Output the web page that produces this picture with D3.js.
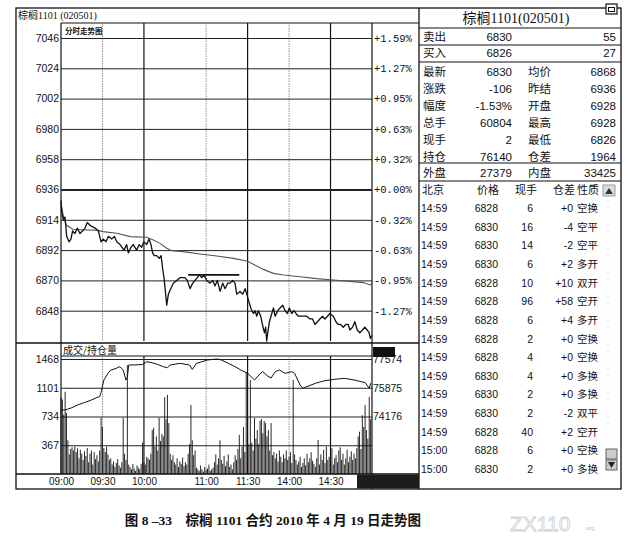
<!DOCTYPE html>
<html>
<head>
<meta charset="utf-8">
<script src="https://cdn.jsdelivr.net/npm/d3@7"></script>
<style>
  body { margin: 0; background: #fff; }
  svg { display: block; }
</style>
</head>
<body>
<div id="chart"></div>
<script>
const width = 636;
const height = 536;

// trading sessions of the day (used to turn clock times into trade minutes)
const sessions = [['09:00', '10:15'], ['10:30', '11:30'], ['13:30', '15:00']];
const timeTicks = ['09:00', '09:30', '10:00', '11:00', '11:30', '14:00', '14:30'];
const solidTimes = ['10:00', '11:30', '14:30'];

const prevSettle = 6936;
const priceDomain = [6826, 7046];
const priceTicks = [7046, 7024, 7002, 6980, 6958, 6936, 6914, 6892, 6870, 6848];

const volDomain = [0, 1468];
const volTicks = [1468, 1101, 734, 367];
const oiDomain = [70778, 77574];
const oiTicks = [77574, 75875, 74176];

// [trade minute, price]
const priceTrace = [
  [0, 6928], [0.5, 6920], [1.7, 6914], [2.9, 6916], [4.1, 6902], [5.8, 6898], [7.2, 6900],
  [8.4, 6906], [10.1, 6904], [11.8, 6908], [13.7, 6904], [15.7, 6906], [17.4, 6908],
  [19, 6912], [21, 6910], [24.6, 6908], [27, 6906], [29, 6898], [30.6, 6900], [32.6, 6898],
  [34.3, 6902], [36.7, 6900], [38.6, 6902], [40.3, 6898], [42.7, 6896], [45.6, 6892],
  [47.5, 6896], [48.7, 6890], [50.6, 6894], [52.3, 6896], [54.7, 6892], [56.6, 6896],
  [58.3, 6894], [60, 6898], [62, 6896], [63.7, 6900], [65.1, 6896], [66.3, 6890],
  [67.5, 6888], [69.2, 6888], [71.1, 6886], [72.4, 6888], [73.6, 6878], [74.5, 6872],
  [75.7, 6860], [76.5, 6852], [77.7, 6860], [79.4, 6864], [81.3, 6868], [83.7, 6870],
  [86.1, 6872], [88, 6872], [89.7, 6872], [91.4, 6870], [93.3, 6864], [95.3, 6868],
  [97, 6870], [98.6, 6872], [100.1, 6874], [101.8, 6872], [103.5, 6874], [105.4, 6870],
  [107.8, 6868], [109.8, 6870], [111.4, 6866], [113.1, 6870], [115.1, 6862], [117, 6868],
  [118.7, 6864], [120.6, 6868], [122.3, 6868], [124.2, 6870], [125.9, 6868], [127.1, 6860],
  [129.5, 6862], [131.5, 6860], [133.2, 6864], [134.4, 6860], [135.5, 6856], [137.3, 6850],
  [138.2, 6848], [139.2, 6846], [140.4, 6848], [141.6, 6844], [142.8, 6848], [144.5, 6844],
  [145.7, 6838], [147.2, 6832], [148.1, 6836], [148.8, 6826], [149.6, 6832], [150.8, 6840],
  [152.5, 6846], [153.7, 6850], [154.9, 6844], [156.8, 6848], [158.5, 6850], [160.4, 6852],
  [162.1, 6848], [163.8, 6846], [165.2, 6850], [166.9, 6846], [168.6, 6848], [170, 6846],
  [171.7, 6844], [173.6, 6844], [175.3, 6844], [177.7, 6844], [180.1, 6842], [182, 6842],
  [183.7, 6838], [185.6, 6840], [187.3, 6842], [189.2, 6844], [190.9, 6842], [192.8, 6844],
  [194.5, 6846], [197, 6844], [198.9, 6840], [200.6, 6838], [202.3, 6838], [204.2, 6836],
  [206.1, 6838], [207.8, 6838], [209, 6834], [210.9, 6836], [212.6, 6840], [214.3, 6834],
  [216.2, 6832], [218.1, 6834], [219.8, 6836], [221.5, 6834], [222.9, 6832], [223.8, 6828],
  [225, 6830]
];

// [trade minute, average price]
const avgTrace = [
  [0, 6926], [2, 6915], [4, 6910], [8.9, 6907], [18.6, 6906.6], [25.6, 6906.5], [30.4, 6905.4],
  [40.3, 6904.2], [50, 6901.8], [62, 6901.3], [66.8, 6899.3], [71.6, 6896.9], [76.5, 6893.3],
  [80, 6891.6], [88.5, 6890.9], [100.6, 6889.2], [112.7, 6887.7], [124.7, 6886], [134.4, 6884.1],
  [139.2, 6881.7], [146.4, 6878], [153.7, 6875.1], [161, 6873.9], [173, 6872.7], [185, 6871.3],
  [197, 6870.3], [209, 6869.3], [218.8, 6868.4], [223.6, 6866.7], [225, 6868]
];

// [trade minute, open interest]
const oiTrace = [
  [0, 74560], [3, 74560], [8, 74700], [12, 74855], [17, 75000], [22, 75150], [26, 75300],
  [28, 75350], [29, 75600], [31, 76330], [34, 76728], [36, 76920], [40, 77020], [42, 77118],
  [44, 77020], [45, 76920], [47, 76330], [48, 76500], [49, 77218], [55, 77230], [59, 77250],
  [62, 77415], [66, 77350], [70, 77250], [74, 77120], [77, 77060], [79, 77220], [86, 77318],
  [93, 77220], [95, 76960], [98, 77318], [106, 77515], [113, 77574], [116, 77515], [121, 77318],
  [126, 77120], [130, 76924], [135, 76728], [140, 76335], [144, 76700], [146, 76826],
  [149, 76600], [152, 76450], [155, 76826], [158, 76924], [162, 76728], [167, 76826],
  [169, 76728], [173, 76040], [175, 75843], [178, 75940], [184, 76138], [191, 76295],
  [198, 76374], [205, 76430], [212, 76335], [217, 76236], [220, 76180], [223, 75843],
  [224, 76140]
];

// volume per trade minute (0..224)
const volumes = [
  980, 950, 760, 1050, 780, 430, 250, 320, 340, 300,
  350, 280, 330, 200, 310, 260, 180, 290, 230, 330,
  150, 260, 300, 120, 280, 190, 240, 160, 300, 715,
  600, 330, 280, 350, 250, 180, 200, 120, 160, 90,
  140, 190, 110, 80, 150, 715, 260, 180, 1390, 120,
  90, 60, 130, 70, 40, 110, 80, 60, 130, 400,
  150, 120, 220, 200, 180, 260, 560, 590, 350, 480,
  300, 715, 420, 510, 480, 980, 700, 1010, 650, 260,
  180, 240, 150, 120, 200, 90, 160, 130, 210, 100,
  150, 120, 260, 380, 880, 430, 240, 300, 80, 60,
  40, 110, 60, 30, 90, 50, 70, 120, 40, 60,
  80, 150, 250, 120, 200, 430, 180, 130, 230, 100,
  160, 250, 90, 120, 60, 150, 240, 180, 320, 500,
  200, 350, 600, 280, 1300, 730, 380, 1200, 400, 300,
  715, 450, 560, 380, 680, 700, 520, 680, 650, 480,
  560, 300, 650, 240, 280, 200, 260, 160, 300, 220,
  150, 250, 200, 300, 180, 220, 280, 140, 1200, 250,
  180, 120, 160, 220, 90, 140, 200, 110, 260, 150,
  200, 280, 170, 130, 90, 200, 434, 120, 250, 180,
  310, 140, 350, 180, 220, 160, 330, 120, 200, 240,
  150, 300, 340, 180, 260, 120, 200, 310, 150, 220,
  290, 180, 260, 200, 330, 480, 540, 320, 750, 600,
  880, 560, 450, 983, 700
];

// hand drawn level line on the price panel
const drawnLine = [[92, 6874], [129, 6874]];

// right quote panel
const quoteTitle = '棕榈1101(020501)';
const bidAsk = [['卖出', '6830', '55'], ['买入', '6826', '27']];
const statLabels1 = ['最新', '涨跌', '幅度', '总手', '现手', '持仓'];
const statValues1 = ['6830', '-106', '-1.53%', '60804', '2', '76140'];
const statLabels2 = ['均价', '昨结', '开盘', '最高', '最低', '仓差'];
const statValues2 = ['6868', '6936', '6928', '6928', '6826', '1964'];
const outerInner = ['外盘', '27379', '内盘', '33425'];
const tradeHeader = ['北京', '价格', '现手', '仓差', '性质'];
const tradeTimes = ['14:59', '14:59', '14:59', '14:59', '14:59', '14:59', '14:59', '14:59',
  '14:59', '14:59', '14:59', '14:59', '14:59', '15:00', '15:00'];
const tradePrices = [6828, 6830, 6830, 6830, 6828, 6828, 6828, 6828, 6828, 6830, 6830, 6830, 6828, 6828, 6830];
const tradeVols = [6, 16, 14, 6, 10, 96, 6, 2, 4, 4, 2, 2, 40, 6, 2];
const tradeOiChg = ['+0', '-4', '-2', '+2', '+10', '+58', '+4', '+0', '+0', '+0', '+0', '-2', '+2', '+0', '+0'];
const tradeKind = ['空换', '空平', '空平', '多开', '双开', '空开', '多开', '空换', '空换', '多换', '多换', '双平', '空开', '空换', '多换'];

const caption = '图 8 –33　棕榈 1101 合约 2010 年 4 月 19 日走势图';

// ---------------------------------------------------------------

const toMin = s => { const [h, m] = s.split(':').map(Number); return h * 60 + m; };
function tradeMinute(t) {
  let acc = 0;
  for (const [a, b] of sessions) {
    const ma = toMin(a), mb = toMin(b), mt = toMin(t);
    if (mt <= mb) return acc + Math.max(0, mt - ma);
    acc += mb - ma;
  }
  return acc;
}
const totalMinutes = tradeMinute('15:00');
const plain = d3.format('d');

const sans = 'Liberation Sans, Arial, sans-serif';
const mono = 'Liberation Mono, DejaVu Sans Mono, monospace';
const cjk = 'Noto Sans CJK SC, sans-serif';
const serif = 'Liberation Serif, Noto Sans CJK SC, serif';

const L = { left: 16, plotL: 61, plotR: 372, split: 419, right: 621, top: 8, headB: 23,
  priceTop: 38, priceBot: 341, volTop: 343, volLab: 356, volTopGrid: 359, volBot: 474, bottom: 489 };

const svg = d3.select('#chart').append('svg')
  .attr('width', width)
  .attr('height', height);

const x = d3.scaleLinear().domain([0, totalMinutes]).range([L.plotL, L.plotR]);
const yP = d3.scaleLinear().domain(priceDomain).range([L.priceBot, L.priceTop]);
const yV = d3.scaleLinear().domain(volDomain).range([L.volBot, L.volTopGrid]);
const yOI = d3.scaleLinear().domain(oiDomain).range([L.volBot, L.volTopGrid]);

const hline = (g, x1, x2, y, w = 1, c = '#111') => g.append('line')
  .attr('x1', x1).attr('x2', x2).attr('y1', y).attr('y2', y)
  .attr('stroke', c).attr('stroke-width', w);
const vline = (g, xx, y1, y2, w = 1, c = '#111') => g.append('line')
  .attr('x1', xx).attr('x2', xx).attr('y1', y1).attr('y2', y2)
  .attr('stroke', c).attr('stroke-width', w);

// ---------- left panel frame ----------
const frame = svg.append('g');
frame.append('rect')
  .attr('x', L.left).attr('y', L.top)
  .attr('width', L.right - L.left).attr('height', L.bottom - L.top)
  .attr('fill', 'none').attr('stroke', '#111').attr('stroke-width', 1.3);
vline(frame, L.split, L.top, L.bottom, 1.3);
hline(frame, L.plotL, L.split, L.headB, 1.2);
hline(frame, L.left, L.split, L.volTop, 1.6);
hline(frame, L.left, L.split, L.volBot, 1.3);
vline(frame, L.plotL, L.headB, L.volBot, 1.2);
vline(frame, L.plotR, L.headB, L.bottom, 1.2);
hline(frame, L.plotL, L.plotR, L.volLab, 1);

frame.append('text')
  .attr('x', L.left + 2).attr('y', 19)
  .attr('font-family', serif).attr('font-size', 10).attr('fill', '#111')
  .text('棕榈1101 (020501)');

frame.append('text')
  .attr('x', L.plotL + 4).attr('y', 34)
  .attr('font-family', cjk).attr('font-size', 7.5).attr('font-weight', 700).attr('fill', '#111')
  .text('分时走势图');

frame.append('text')
  .attr('x', L.plotL + 2).attr('y', 354)
  .attr('font-family', cjk).attr('font-size', 10).attr('fill', '#111')
  .text('成交/持仓量');

// ---------- vertical time grid ----------
const vgrid = svg.append('g');
timeTicks.slice(1).forEach(t => {
  const solid = solidTimes.includes(t);
  [[L.headB, L.priceBot], [L.volLab, L.volBot]].forEach(([a, b]) => {
    vline(vgrid, x(tradeMinute(t)), a, b, solid ? 1.2 : 0.8, solid ? '#111' : '#777')
      .attr('stroke-dasharray', solid ? null : '1.5,1');
  });
});

// ---------- price axes and grid ----------
const pAxis = svg.append('g')
  .attr('transform', `translate(${L.plotL},0)`)
  .call(d3.axisLeft(yP).tickValues(priceTicks).tickFormat(plain)
    .tickSize(-(L.plotR - L.plotL)).tickPadding(2));
pAxis.select('.domain').remove();
pAxis.selectAll('.tick line')
  .attr('stroke', '#222')
  .attr('stroke-width', d => d === prevSettle ? 1.8 : 1);
pAxis.selectAll('.tick text')
  .attr('font-family', sans).attr('font-size', 10.5).attr('fill', '#111');

const pct = d => {
  const v = (d - prevSettle) / prevSettle * 100;
  return (v >= 0 ? '+' : '-') + Math.abs(v).toFixed(2) + '%';
};
const pAxisR = svg.append('g')
  .attr('transform', `translate(${L.plotR},0)`)
  .call(d3.axisRight(yP).tickValues(priceTicks).tickSize(0).tickPadding(2).tickFormat(pct));
pAxisR.select('.domain').remove();
pAxisR.selectAll('.tick text')
  .attr('font-family', mono).attr('font-size', 10.5).attr('fill', '#111');

// ---------- price lines ----------
const avgLine = d3.line().x(d => x(d[0])).y(d => yP(d[1]));
svg.append('path')
  .datum(avgTrace)
  .attr('d', avgLine)
  .attr('fill', 'none').attr('stroke', '#555').attr('stroke-width', 1.1);

svg.append('path')
  .datum(priceTrace)
  .attr('d', avgLine)
  .attr('fill', 'none').attr('stroke', '#111').attr('stroke-width', 1.3)
  .attr('stroke-linejoin', 'round');

svg.append('path')
  .datum(drawnLine)
  .attr('d', avgLine)
  .attr('fill', 'none').attr('stroke', '#111').attr('stroke-width', 1.6);

// ---------- volume axes ----------
const vAxis = svg.append('g')
  .attr('transform', `translate(${L.plotL},0)`)
  .call(d3.axisLeft(yV).tickValues(volTicks).tickFormat(plain)
    .tickSize(-(L.plotR - L.plotL)).tickPadding(2));
vAxis.select('.domain').remove();
vAxis.selectAll('.tick line').attr('stroke', '#222').attr('stroke-width', 1);
vAxis.selectAll('.tick text')
  .attr('font-family', sans).attr('font-size', 10.5).attr('fill', '#111');

const oiAxis = svg.append('g')
  .attr('transform', `translate(${L.plotR},0)`)
  .call(d3.axisRight(yOI).tickValues(oiTicks).tickFormat(plain).tickSize(0).tickPadding(1));
oiAxis.select('.domain').remove();
oiAxis.selectAll('.tick text')
  .attr('font-family', sans).attr('font-size', 10.5).attr('fill', '#111');

// volume bars
svg.append('g')
  .selectAll('line')
  .data(volumes)
  .enter()
  .append('line')
  .attr('x1', (d, i) => x(i)).attr('x2', (d, i) => x(i))
  .attr('y1', yV(0)).attr('y2', d => yV(d))
  .attr('stroke', '#111').attr('stroke-width', 0.9);

// open interest line
svg.append('path')
  .datum(oiTrace)
  .attr('d', d3.line().x(d => x(d[0])).y(d => yOI(d[1])))
  .attr('fill', 'none').attr('stroke', '#111').attr('stroke-width', 1);

// black marker covering the top OI label
svg.append('rect')
  .attr('x', L.plotR + 1).attr('y', 347).attr('width', 22).attr('height', 10)
  .attr('fill', '#111');

// ---------- time axis ----------
const tAxis = svg.append('g')
  .attr('transform', `translate(0,${L.volBot})`)
  .call(d3.axisBottom(x)
    .tickValues(timeTicks.map(tradeMinute))
    .tickFormat((d, i) => timeTicks[i])
    .tickSize(0).tickPadding(4));
tAxis.select('.domain').remove();
tAxis.selectAll('.tick text')
  .attr('font-family', sans).attr('font-size', 10).attr('fill', '#111');

svg.append('rect')
  .attr('x', 357).attr('y', L.volBot + 0.5).attr('width', L.split - 357).attr('height', L.bottom - L.volBot - 1)
  .attr('fill', '#1c1c1c');

// ---------- right quote panel ----------
const qp = svg.append('g');
const rx = { lab1: 423, val1: 512, lab2: 528, val2: 616 };

qp.append('text')
  .attr('x', (L.split + L.right) / 2 - 4).attr('y', 23)
  .attr('text-anchor', 'middle')
  .attr('font-family', serif).attr('font-size', 14).attr('fill', '#111')
  .text(quoteTitle);

// small window icon
qp.append('rect').attr('x', 606).attr('y', 4).attr('width', 11).attr('height', 10)
  .attr('fill', '#fff').attr('stroke', '#111').attr('stroke-width', 1.2);
qp.append('rect').attr('x', 608.5).attr('y', 7.5).attr('width', 6).attr('height', 4)
  .attr('fill', 'none').attr('stroke', '#111').attr('stroke-width', 1);

[28, 45, 62, 163, 181].forEach(yy => hline(qp, L.split, L.right, yy, 1.2));

const cjkText = (g, xx, yy, s, size = 11.5, anchor = 'start') => g.append('text')
  .attr('x', xx).attr('y', yy).attr('text-anchor', anchor)
  .attr('font-family', cjk).attr('font-size', size).attr('fill', '#111').text(s);
const numText = (g, xx, yy, s, size = 11.5, anchor = 'end') => g.append('text')
  .attr('x', xx).attr('y', yy).attr('text-anchor', anchor)
  .attr('font-family', sans).attr('font-size', size).attr('fill', '#111').text(s);

const bidY = d3.scaleLinear().domain([0, 1]).range([37, 53]);
bidAsk.forEach((r, i) => {
  cjkText(qp, rx.lab1, bidY(i) + 4, r[0]);
  numText(qp, rx.val1, bidY(i) + 4, r[1]);
  numText(qp, rx.val2, bidY(i) + 4, r[2]);
});

const statY = d3.scaleLinear().domain([0, statLabels1.length - 1]).range([72, 157]);
statLabels1.forEach((s, i) => {
  const yy = statY(i) + 4;
  cjkText(qp, rx.lab1, yy, s);
  numText(qp, rx.val1, yy, statValues1[i]);
  cjkText(qp, rx.lab2, yy, statLabels2[i]);
  numText(qp, rx.val2, yy, statValues2[i]);
});

cjkText(qp, rx.lab1, 177, outerInner[0]);
numText(qp, rx.val1, 177, outerInner[1]);
cjkText(qp, rx.lab2, 177, outerInner[2]);
numText(qp, rx.val2, 177, outerInner[3]);

const hdrX = [422, 477, 515, 553, 577];
tradeHeader.forEach((s, i) => cjkText(qp, hdrX[i], 194, s, 11));

// scroll arrow
qp.append('rect').attr('x', 603).attr('y', 185).attr('width', 12).attr('height', 11)
  .attr('fill', '#ddd').attr('stroke', '#888').attr('stroke-width', 0.8);
qp.append('path').attr('d', 'M605,194 L609,188 L613,194 Z').attr('fill', '#333');
vline(qp, 608, 200, 446, 0.8, '#bbb').attr('stroke-dasharray', '1,5');
// bottom scroll icons
qp.append('rect').attr('x', 606).attr('y', 449).attr('width', 11).attr('height', 10)
  .attr('fill', '#ccc').attr('stroke', '#444').attr('stroke-width', 0.8);
qp.append('rect').attr('x', 606).attr('y', 460).attr('width', 11).attr('height', 10)
  .attr('fill', '#ccc').attr('stroke', '#444').attr('stroke-width', 0.8);
qp.append('path').attr('d', 'M608,462 L611.5,468 L615,462 Z').attr('fill', '#222');

const rowY = d3.scaleLinear().domain([0, tradeTimes.length - 1]).range([208, 469]);
tradeTimes.forEach((t, i) => {
  const yy = rowY(i) + 4;
  numText(qp, 421, yy, t, 10.5, 'start');
  numText(qp, 498, yy, tradePrices[i], 10.5);
  numText(qp, 533, yy, tradeVols[i], 10.5);
  numText(qp, 573, yy, tradeOiChg[i], 10.5);
  cjkText(qp, 577, yy, tradeKind[i], 10.5);
});

// ---------- caption and watermark ----------
svg.append('text')
  .attr('x', 273).attr('y', 525)
  .attr('text-anchor', 'middle')
  .attr('font-family', serif).attr('font-size', 13.5).attr('font-weight', 700).attr('fill', '#111')
  .text(caption);

svg.append('text')
  .attr('x', 510).attr('y', 531)
  .attr('font-family', sans).attr('font-size', 21)
  .attr('fill', 'none').attr('stroke', '#ccc').attr('stroke-width', 0.8)
  .text('ZX110');
svg.append('text')
  .attr('x', 584).attr('y', 530)
  .attr('font-family', sans).attr('font-size', 6).attr('fill', '#bbb')
  .text('.org');
</script>
</body>
</html>
